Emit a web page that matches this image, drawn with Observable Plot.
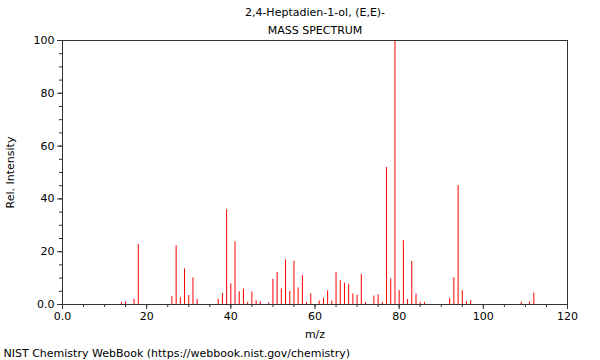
<!DOCTYPE html>
<html>
<head>
<meta charset="utf-8">
<script src="https://cdn.jsdelivr.net/npm/d3@7"></script>
<script src="https://cdn.jsdelivr.net/npm/@observablehq/plot@0.6"></script>
<style>
  html, body { margin: 0; padding: 0; background: #fff; }
</style>
</head>
<body>
<div id="chart"></div>
<script>
const titleLine1 = "2,4-Heptadien-1-ol, (E,E)-";
const titleLine2 = "MASS SPECTRUM";
const caption = "NIST Chemistry WebBook (https://webbook.nist.gov/chemistry)";
const xLabel = "m/z";
const yLabel = "Rel. Intensity";

const mz = [14, 15, 17, 18, 26, 27, 28, 29, 30, 31, 32, 37, 38, 39, 40, 41, 42, 43, 44, 45, 46, 47, 49, 50, 51, 52, 53, 54, 55, 56, 57, 58, 59, 61, 62, 63, 64, 65, 66, 67, 68, 69, 70, 71, 72, 74, 75, 76, 77, 78, 79, 80, 81, 82, 83, 84, 85, 86, 92, 93, 94, 95, 96, 97, 109, 111, 112];
const intensity = [0.8, 1, 2, 22.7, 3, 22.3, 2.6, 13.5, 3.4, 10.1, 1.9, 1.9, 4.2, 35.9, 7.8, 23.7, 4.8, 5.8, 0.8, 4.8, 1.5, 1, 0.6, 9.5, 12.1, 5.9, 16.9, 4.9, 16.4, 6.3, 10.9, 0.8, 4.0, 1.3, 2.4, 5.2, 1.3, 12.2, 9.0, 8.1, 7.6, 4.0, 3.5, 11.4, 0.8, 3.2, 3.7, 0.8, 51.9, 9.7, 100, 5.3, 24.2, 1.9, 16.3, 4.0, 0.8, 0.8, 2.3, 10.2, 45.1, 5.2, 1.1, 1.5, 0.8, 1, 4.3];

const xMajorTicks = [0, 20, 40, 60, 80, 100, 120];
const yMajorTicks = [0, 20, 40, 60, 80, 100];
const minorStep = 5;

const data = mz.map((m, i) => ({mz: m, intensity: intensity[i]}));
const xMinor = d3.range(0, 120 + 0.001, minorStep);
const yMinor = d3.range(0, 100 + 0.001, minorStep);
const fmt = d => d === 0 ? "0.0" : String(d);
const blank = () => "";

const chart = Plot.plot({
  width: 600,
  height: 360,
  marginTop: 40,
  marginBottom: 56,
  marginLeft: 62,
  marginRight: 33,
  style: {fontFamily: "DejaVu Sans", fontSize: "11px", color: "#000", background: "#fff"},
  x: {domain: [0, 120]},
  y: {domain: [0, 100]},
  marks: [
    Plot.ruleX(data, {x: "mz", y1: 0, y2: "intensity", stroke: "#ff0000", strokeWidth: 1}),
    Plot.axisX({ticks: xMinor, tickSize: 3, tickFormat: blank, label: null, stroke: "#333"}),
    Plot.axisX({ticks: xMajorTicks, tickSize: 5, tickPadding: 3, tickFormat: fmt, stroke: "#333",
      label: xLabel, labelAnchor: "center", labelArrow: "none", labelOffset: 33}),
    Plot.axisY({ticks: yMinor, tickSize: 3, tickFormat: blank, label: null, stroke: "#333"}),
    Plot.axisY({ticks: yMajorTicks, tickSize: 5, tickPadding: 3, tickFormat: fmt, stroke: "#333",
      label: yLabel, labelAnchor: "center", labelArrow: "none", labelOffset: 56}),
    Plot.frame({stroke: "#333"}),
    Plot.text([titleLine1], {frameAnchor: "top", dy: -32, text: d => d, fontSize: 11}),
    Plot.text([titleLine2], {frameAnchor: "top", dy: -14, text: d => d, fontSize: 11}),
    Plot.text([caption], {frameAnchor: "bottom-left", dx: -59, dy: 52, textAnchor: "start", text: d => d, fontSize: 11})
  ]
});
document.getElementById("chart").appendChild(chart);
</script>
</body>
</html>
